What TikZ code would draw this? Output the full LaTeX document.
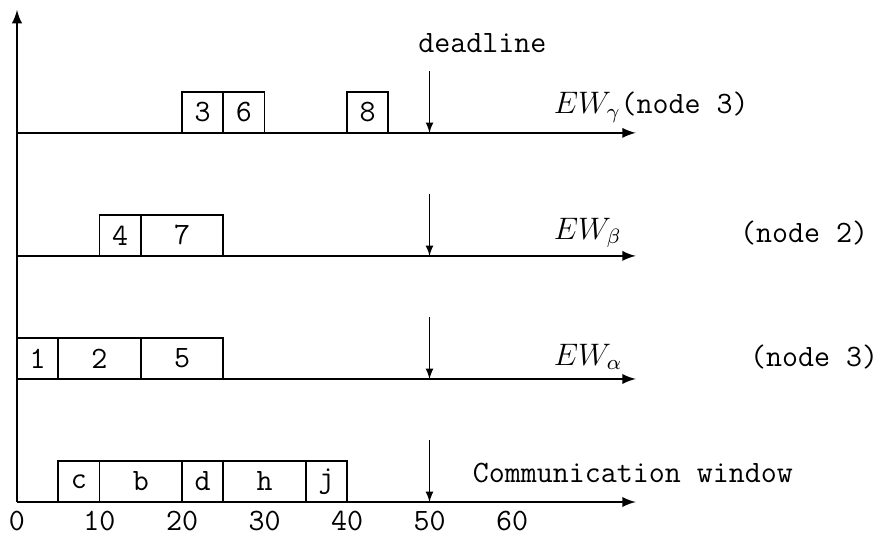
\documentclass[tikz,border=0pt]{standalone}
\usepackage{amsmath}
\usetikzlibrary{arrows}

\begin{document}
\begin{tikzpicture}[x=0.1120cm, y=0.5568cm,
				>=latex,   %Pfeilspitzen
				slot/.style={draw, line width=0.6pt},
				achse/.style={->, line width=0.8pt},
				frist/.style={->, line width=0.4pt},
				lbl/.style={anchor=west, inner sep=0pt},
				font=\fontsize{12}{14}\selectfont\ttfamily]
				\useasboundingbox (-2.06,-0.854) rectangle (104.24,12.24);
				% Achsen zeichnen
				\draw[achse] (0,0) -- (0,12);
				\foreach \r in {0,3,6,9} \draw[achse] (0,\r) -- (75,\r);
				% Zeitachse beschriften
				\foreach \x in {0,10,...,60} \node[below] (t\x) at (\x,0) {\x};
				% Fristen
				\foreach \r in {0,3,6,9} \draw[frist] (50,\r+1.5) -- (50,\r);
				\node[lbl] (dl) at (48.6,11.2) {deadline};
				% Zeitfenster
				\foreach \a/\b/\t/\r in {20/25/3/9, 25/30/6/9, 40/45/8/9,
						10/15/4/6, 15/25/7/6,
						0/5/1/3, 5/15/2/3, 15/25/5/3,
						5/10/c/0, 10/20/b/0, 20/25/d/0, 25/35/h/0, 35/40/j/0}
					\draw[slot] (\a,\r) rectangle (\b,\r+1) node[midway] (m\t) {\t};
				%Beschriftung
				\node[lbl] (ewg) at (65,9.62) {$EW_\gamma$(node 3)};
				\node[lbl] (ewb) at (65,6.56) {$EW_\beta$};
				\node[lbl] (nb) at (87.6,6.56) {(node 2)};
				\node[lbl] (ewa) at (65,3.54) {$EW_\alpha$};
				\node[lbl] (na) at (88.8,3.54) {(node 3)};
				\node[lbl] (kom) at (55.2,0.71) {Communication window};
			\end{tikzpicture}
\end{document}
